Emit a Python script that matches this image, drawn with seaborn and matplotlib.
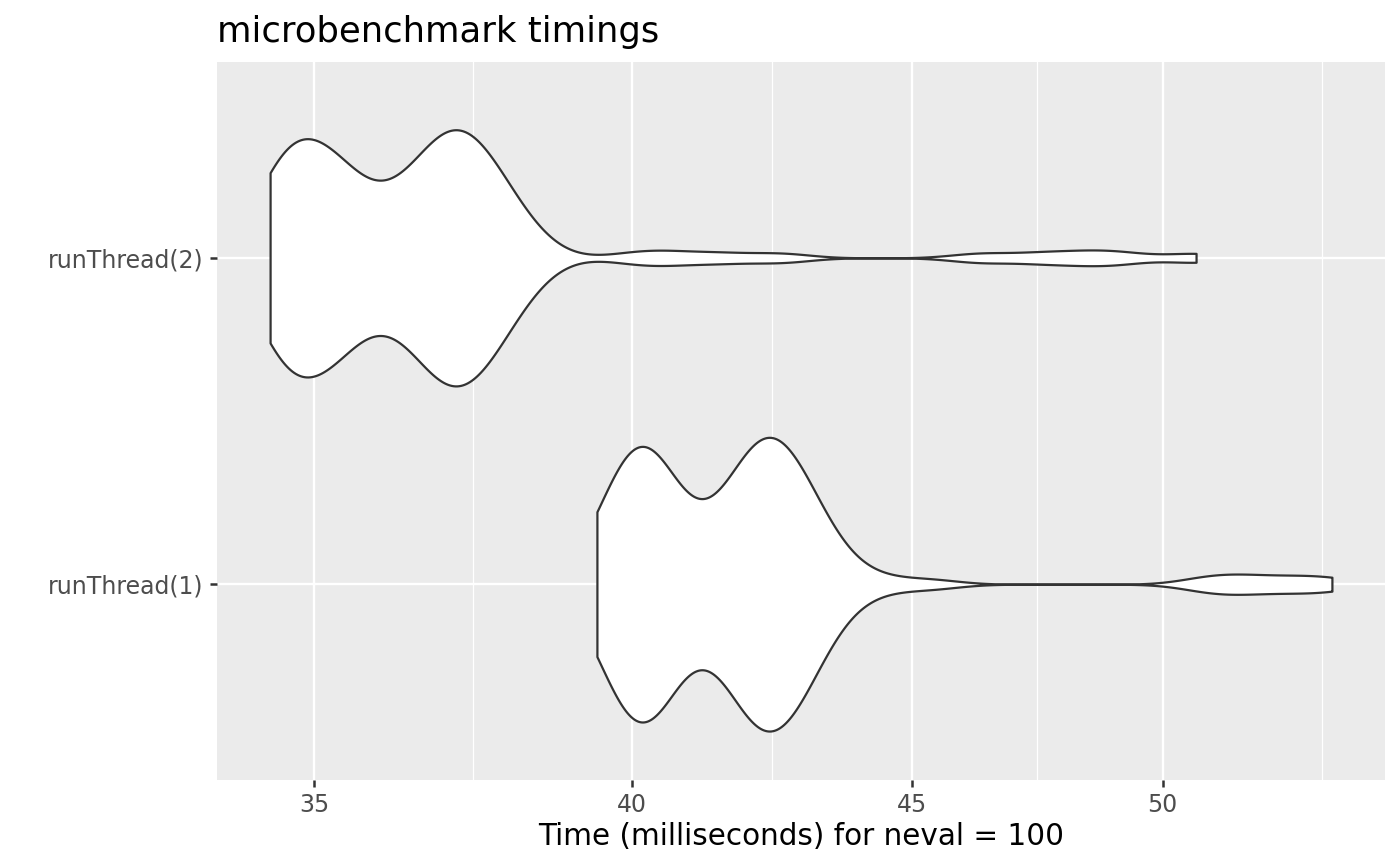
import numpy as np
import pandas as pd
import seaborn as sns
import matplotlib.pyplot as plt
from matplotlib.ticker import FixedLocator, FixedFormatter, NullFormatter

# benchmark expressions, top to bottom
exprs = ["runThread(2)", "runThread(1)"]

# timings in ms, with the number of runs at each value
thread2_ms = [34.36, 34.58, 34.79, 35.01, 35.24, 35.46, 35.68, 35.91, 36.13, 36.36,
              36.59, 36.82, 37.06, 37.29, 37.53, 37.76, 38.00, 38.24, 38.48,
              40.07, 40.66, 41.52, 42.58, 46.31, 47.49, 48.40, 49.12, 50.71]
thread2_n = [7, 7, 6, 6, 6, 5, 3, 2, 3, 3, 5, 6, 8, 7, 6, 5, 3, 2, 1,
             1, 1, 1, 1, 1, 1, 1, 1, 1]

thread1_ms = [39.42, 39.67, 39.92, 40.17, 40.42, 40.68, 40.93, 41.19, 41.45, 41.71,
              41.98, 42.24, 42.51, 42.78, 43.05, 43.32, 43.60, 43.87,
              44.41, 45.35, 50.90, 51.44, 52.13, 52.97, 53.69]
thread1_n = [3, 5, 8, 10, 8, 5, 2, 1, 3, 5, 7, 9, 9, 7, 5, 4, 1, 1,
             1, 1, 1, 1, 1, 1, 1]

x_breaks = [35, 40, 45, 50]
x_minor = [37.42, 42.43, 47.43, 53.46]

df = pd.DataFrame({
    "expr": np.repeat(exprs, [sum(thread2_n), sum(thread1_n)]),
    "time": np.concatenate([np.repeat(thread2_ms, thread2_n),
                            np.repeat(thread1_ms, thread1_n)]),
})

# fixed kernel width in log10 units (like one R bandwidth per group)
BW = 0.0055

fig = plt.figure(figsize=(14, 8.65), dpi=100)
ax = fig.add_axes([217 / 1400, 85 / 865, 1168 / 1400, 718 / 865])

sns.violinplot(data=df, x="time", y="expr", order=exprs, orient="h",
               log_scale=True, cut=0, inner=None, width=0.9,
               density_norm="area", gridsize=512,
               bw_method=lambda k: BW / k.dataset.std(ddof=1),
               color="white", saturation=1, linecolor="#333333",
               linewidth=1.6, ax=ax)

# ggplot-like 5% expansion on the log axis
lo, hi = np.log10(df["time"].min()), np.log10(df["time"].max())
pad = 0.05 * (hi - lo)
ax.set_xlim(10 ** (lo - pad), 10 ** (hi + pad))
ax.set_ylim(1.6, -0.6)

ax.xaxis.set_major_locator(FixedLocator(x_breaks))
ax.xaxis.set_major_formatter(FixedFormatter([str(b) for b in x_breaks]))
ax.xaxis.set_minor_locator(FixedLocator(x_minor))
ax.xaxis.set_minor_formatter(NullFormatter())

ax.set_facecolor("#EBEBEB")
ax.set_axisbelow(True)
ax.grid(which="major", axis="both", color="white", linewidth=1.7)
ax.grid(which="minor", axis="x", color="white", linewidth=0.9)
for s in ax.spines.values():
    s.set_visible(False)

ax.tick_params(axis="both", which="major", length=5, width=1.8, color="#333333",
               labelcolor="#4D4D4D", labelsize=17)
ax.tick_params(axis="x", which="major", pad=4)
ax.tick_params(axis="y", which="major", pad=4.5)
ax.tick_params(axis="x", which="minor", length=0)

ax.set_xlabel("Time (milliseconds) for neval = 100", fontsize=21.25, labelpad=4)
ax.set_ylabel("")
ax.set_title("microbenchmark timings", loc="left", fontsize=25.5, pad=14.4)

fig.savefig("out.png", dpi=100)
